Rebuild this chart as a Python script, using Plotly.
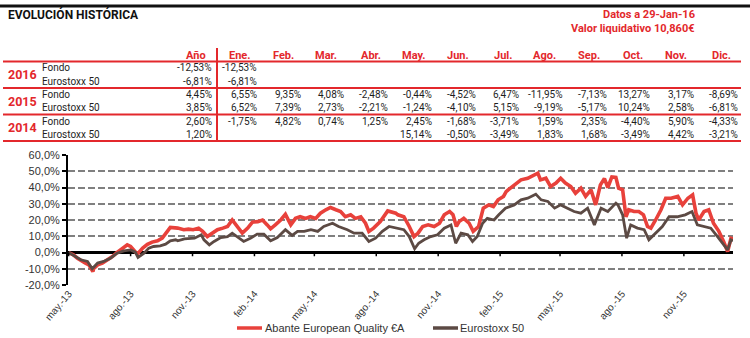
import plotly.graph_objects as go

# ------------------------------------------------------------------ data
fund_name = "Abante European Quality €A"
index_name = "Eurostoxx 50"

fund_dates = [
    "2013-05-17", "2013-05-24", "2013-05-30", "2013-06-04", "2013-06-11", "2013-06-16", "2013-06-22", "2013-06-23", "2013-06-29", "2013-07-06",
    "2013-07-14", "2013-07-21", "2013-07-28", "2013-08-05", "2013-08-12", "2013-08-17", "2013-08-21", "2013-08-27", "2013-09-04", "2013-09-11",
    "2013-09-18", "2013-09-26", "2013-10-03", "2013-10-11", "2013-10-15", "2013-10-26", "2013-11-04", "2013-11-11", "2013-11-18", "2013-11-26",
    "2013-12-02", "2013-12-09", "2013-12-17", "2013-12-24", "2014-01-01", "2014-01-08", "2014-01-15", "2014-01-23", "2014-01-30", "2014-02-07",
    "2014-02-14", "2014-02-22", "2014-03-01", "2014-03-08", "2014-03-13", "2014-03-20", "2014-03-28", "2014-04-04", "2014-04-12", "2014-04-19",
    "2014-04-26", "2014-05-04", "2014-05-11", "2014-05-19", "2014-05-26", "2014-06-03", "2014-06-10", "2014-06-18", "2014-06-25", "2014-07-02",
    "2014-07-10", "2014-07-17", "2014-07-25", "2014-08-01", "2014-08-06", "2014-08-13", "2014-08-23", "2014-09-03", "2014-09-15", "2014-09-18",
    "2014-09-27", "2014-10-05", "2014-10-12", "2014-10-18", "2014-10-25", "2014-11-02", "2014-11-11", "2014-11-19", "2014-11-26", "2014-12-04",
    "2014-12-09", "2014-12-14", "2014-12-18", "2014-12-25", "2015-01-02", "2015-01-08", "2015-01-16", "2015-01-23", "2015-01-31", "2015-02-07",
    "2015-02-14", "2015-02-22", "2015-02-26", "2015-03-01", "2015-03-10", "2015-03-20", "2015-03-30", "2015-04-08", "2015-04-14", "2015-04-18",
    "2015-04-26", "2015-05-03", "2015-05-11", "2015-05-18", "2015-05-25", "2015-06-02", "2015-06-09", "2015-06-17", "2015-06-24", "2015-07-02",
    "2015-07-09", "2015-07-16", "2015-07-22", "2015-07-27", "2015-08-02", "2015-08-08", "2015-08-12", "2015-08-18", "2015-08-23", "2015-08-27",
    "2015-09-04", "2015-09-11", "2015-09-18", "2015-09-24", "2015-09-29", "2015-10-06", "2015-10-14", "2015-10-21", "2015-10-29", "2015-11-08",
    "2015-11-15", "2015-11-23", "2015-11-30", "2015-12-05", "2015-12-09", "2015-12-17", "2015-12-24", "2015-12-31", "2016-01-08", "2016-01-15",
    "2016-01-21", "2016-01-26", "2016-01-29",
]
fund_values = [
    0.0, -1.4, -3.5, -5.0, -6.5, -7.6, -11.7, -10.0, -7.6, -6.5,
    -4.5, -2.5, 0.0, 2.7, 4.7, 3.7, 1.6, -1.0, 2.7, 5.0,
    6.4, 7.2, 8.8, 13.0, 15.4, 15.0, 14.0, 14.4, 14.0, 15.0,
    13.0, 9.8, 11.9, 14.0, 15.0, 16.0, 20.0, 16.0, 11.9, 15.0,
    18.7, 19.0, 20.0, 17.0, 14.6, 17.0, 20.0, 23.5, 17.0, 21.0,
    22.0, 21.0, 22.0, 21.0, 24.2, 26.3, 27.7, 26.3, 25.2, 22.0,
    23.2, 21.0, 22.0, 18.0, 13.0, 15.0, 19.0, 25.6, 24.2, 23.2,
    22.0, 16.0, 9.8, 11.9, 16.0, 17.0, 16.0, 18.0, 23.2, 25.2,
    23.2, 16.0, 19.0, 21.0, 18.0, 13.0, 16.0, 27.3, 29.3, 28.3,
    32.4, 34.5, 37.5, 38.6, 41.6, 44.7, 45.7, 47.8, 48.8, 44.7,
    45.7, 40.6, 42.7, 45.7, 42.7, 40.6, 36.5, 39.6, 34.5, 38.6,
    29.3, 41.6, 45.5, 40.0, 46.5, 46.2, 39.6, 38.6, 22.0, 26.3,
    25.2, 25.2, 23.2, 16.0, 15.0, 20.0, 26.3, 33.4, 33.4, 34.5,
    29.3, 33.4, 35.5, 24.2, 20.0, 25.2, 26.3, 18.0, 13.0, 6.8,
    0.6, 8.8, 8.4,
]

index_dates = [
    "2013-05-17", "2013-05-25", "2013-06-04", "2013-06-14", "2013-06-21", "2013-06-29", "2013-07-08", "2013-07-18", "2013-07-28", "2013-08-07",
    "2013-08-17", "2013-08-24", "2013-08-28", "2013-09-06", "2013-09-13", "2013-09-20", "2013-09-30", "2013-10-08", "2013-10-15", "2013-10-23",
    "2013-10-26", "2013-11-05", "2013-11-20", "2013-11-30", "2013-12-04", "2013-12-12", "2013-12-19", "2013-12-29", "2014-01-08", "2014-01-15",
    "2014-01-22", "2014-02-01", "2014-02-11", "2014-02-21", "2014-03-03", "2014-03-13", "2014-03-23", "2014-04-04", "2014-04-14", "2014-04-22",
    "2014-05-02", "2014-05-12", "2014-05-22", "2014-05-31", "2014-06-13", "2014-06-22", "2014-07-05", "2014-07-15", "2014-07-27", "2014-08-06",
    "2014-08-16", "2014-08-26", "2014-09-05", "2014-09-15", "2014-09-27", "2014-10-05", "2014-10-13", "2014-10-19", "2014-10-27", "2014-11-06",
    "2014-11-16", "2014-11-26", "2014-12-06", "2014-12-13", "2014-12-21", "2014-12-31", "2015-01-07", "2015-01-14", "2015-01-22", "2015-01-29",
    "2015-02-08", "2015-02-15", "2015-02-25", "2015-03-10", "2015-03-20", "2015-03-30", "2015-04-11", "2015-04-19", "2015-04-29", "2015-05-09",
    "2015-05-18", "2015-05-28", "2015-06-07", "2015-06-17", "2015-06-27", "2015-07-07", "2015-07-17", "2015-07-27", "2015-08-08", "2015-08-11",
    "2015-08-18", "2015-08-24", "2015-08-30", "2015-09-09", "2015-09-19", "2015-09-26", "2015-10-06", "2015-10-16", "2015-10-26", "2015-11-07",
    "2015-11-19", "2015-11-29", "2015-12-07", "2015-12-17", "2015-12-27", "2016-01-06", "2016-01-16", "2016-01-21", "2016-01-26", "2016-01-29",
]
index_values = [
    0.0, -1.8, -4.5, -5.5, -10.0, -6.5, -5.5, -3.5, -0.4, 1.0,
    1.6, 0.2, -3.0, -0.4, 2.7, 3.7, 4.1, 5.1, 7.2, 7.8,
    7.2, 8.4, 8.8, 10.9, 7.8, 4.7, 6.8, 9.2, 9.8, 11.9,
    9.8, 6.8, 8.8, 11.3, 11.3, 7.2, 9.2, 14.0, 10.5, 13.0,
    13.0, 14.0, 13.0, 16.0, 18.0, 16.0, 14.0, 11.9, 11.9, 6.8,
    8.8, 13.0, 16.0, 15.0, 14.0, 9.8, 2.3, 5.7, 7.8, 9.8,
    10.9, 15.0, 17.0, 5.7, 11.9, 10.9, 6.8, 9.8, 18.0, 21.0,
    20.0, 23.2, 27.3, 29.3, 32.4, 33.4, 35.9, 32.4, 31.4, 27.3,
    29.3, 27.3, 25.2, 24.2, 27.3, 17.0, 27.3, 25.2, 30.4, 29.3,
    23.2, 8.8, 17.0, 15.0, 14.0, 7.8, 11.9, 16.0, 22.0, 22.0,
    23.2, 25.2, 17.0, 16.0, 15.0, 9.8, 4.7, 1.6, 7.8, 7.2,
]

x_tick_dates = ["2013-05-17", "2013-08-17", "2013-11-17", "2014-02-17", "2014-05-17", "2014-08-17",
                "2014-11-17", "2015-02-17", "2015-05-17", "2015-08-17", "2015-11-17"]
x_tick_labels = ["may.-13", "ago.-13", "nov.-13", "feb.-14", "may.-14", "ago.-14",
                 "nov.-14", "feb.-15", "may.-15", "ago.-15", "nov.-15"]
y_tick_values = [-20, -10, 0, 10, 20, 30, 40, 50, 60]
y_tick_labels = ["-20,0%", "-10,0%", "0,0%", "10,0%", "20,0%", "30,0%", "40,0%", "50,0%", "60,0%"]

# table
table_title = "EVOLUCIÓN HISTÓRICA"
info_lines = ["Datos a 29-Jan-16", "Valor liquidativo 10,860€"]
year_header = "Año"
months = ["Ene.", "Feb.", "Mar.", "Abr.", "May.", "Jun.", "Jul.", "Ago.", "Sep.", "Oct.", "Nov.", "Dic."]
years = ["2016", "2015", "2014"]
row_labels = ["Fondo", "Eurostoxx 50"]
fondo_year = [-12.53, 4.45, 2.60]
euro_year = [-6.81, 3.85, 1.20]
fondo_2016 = [-12.53, None, None, None, None, None, None, None, None, None, None, None]
euro_2016 = [-6.81, None, None, None, None, None, None, None, None, None, None, None]
fondo_2015 = [6.55, 9.35, 4.08, -2.48, -0.44, -4.52, 6.47, -11.95, -7.13, 13.27, 3.17, -8.69]
euro_2015 = [6.52, 7.39, 2.73, -2.21, -1.24, -4.10, 5.15, -9.19, -5.17, 10.24, 2.58, -6.81]
fondo_2014 = [-1.75, 4.82, 0.74, 1.25, 2.45, -1.68, -3.71, 1.59, 2.35, -4.40, 5.90, -4.33]
euro_2014 = [None, None, None, None, 15.14, -0.50, -3.49, 1.83, 1.68, -3.49, 4.42, -3.21]
fondo_monthly = [fondo_2016, fondo_2015, fondo_2014]
euro_monthly = [euro_2016, euro_2015, euro_2014]

# ------------------------------------------------------------------ styles
W, H = 750, 338
PL, PR, PT, PB = 68, 733, 155, 285   # plot area in pixels
RED = "#E3282C"
RED_LINE = "#E8413B"
BROWN = "#5C4A44"
DARK = "#1E1E1E"
TFONT = "Roboto"
CFONT = "Liberation Sans"


def px_x(px):
    return (px - PL) / (PR - PL)


def px_y(py):
    return (PB - py) / (PB - PT)


def fmt(v):
    return "" if v is None else f"{v:.2f}".replace(".", ",") + "%"


fig = go.Figure()
fig.add_trace(go.Scatter(x=fund_dates, y=fund_values, mode="lines", name=fund_name,
                         line=dict(color=RED_LINE, width=3.6), showlegend=False))
fig.add_trace(go.Scatter(x=index_dates, y=index_values, mode="lines", name=index_name,
                         line=dict(color=BROWN, width=2.8), showlegend=False))

shapes = []
annotations = []


def hline(py, x0, x1, color, width):
    shapes.append(dict(type="line", xref="paper", yref="paper", x0=px_x(x0), x1=px_x(x1),
                       y0=px_y(py), y1=px_y(py), line=dict(color=color, width=width)))


def txt(px, py, s, anchor="left", size=10, color=DARK, bold=False, family=TFONT):
    annotations.append(dict(xref="paper", yref="paper", x=px_x(px), y=px_y(py),
                            text=f"<b>{s}</b>" if bold else s, showarrow=False,
                            xanchor=anchor, yanchor="middle", borderpad=0,
                            font=dict(family=family, size=size, color=color)))


# header block
hline(6, 0, 750, "#111111", 3)
txt(7, 15, table_title, size=12, color="#111111", bold=True)
txt(696, 15, info_lines[0], anchor="right", size=11, color=RED, bold=True)
txt(696, 29, info_lines[1], anchor="right", size=11, color=RED, bold=True)

# table
ROW_STEP = 26.7
year_right = 213
col_right = [258 + 43.7 * i for i in range(len(months))]
txt(year_right - 6, 55, year_header, anchor="right", size=11, color=RED, bold=True)
for i, m in enumerate(months):
    txt(col_right[i] - 7, 55, m, anchor="right", size=11, color=RED, bold=True)
for k in range(4):
    hline(61.5 + 26.5 * k, 3, 741, RED, 2)
shapes.append(dict(type="line", xref="paper", yref="paper", x0=px_x(217), x1=px_x(217),
                   y0=px_y(48), y1=px_y(141), line=dict(color=RED, width=2)))
for k, yr in enumerate(years):
    y_f = 68 + ROW_STEP * k
    y_e = 81 + ROW_STEP * k
    txt(7, (y_f + y_e) / 2, yr, size=12.5, color=RED, bold=True)
    txt(41, y_f, row_labels[0], size=10)
    txt(41, y_e, row_labels[1], size=10)
    txt(year_right, y_f, fmt(fondo_year[k]), anchor="right", size=10)
    txt(year_right, y_e, fmt(euro_year[k]), anchor="right", size=10)
    for i in range(len(months)):
        if fondo_monthly[k][i] is not None:
            txt(col_right[i], y_f, fmt(fondo_monthly[k][i]), anchor="right", size=10)
        if euro_monthly[k][i] is not None:
            txt(col_right[i], y_e, fmt(euro_monthly[k][i]), anchor="right", size=10)

# small tick marks on the zero line
for d in x_tick_dates:
    shapes.append(dict(type="line", xref="x", yref="y", x0=d, x1=d, y0=0, y1=-2.3,
                       line=dict(color="black", width=1.5)))

# legend (manual)
hline(328, 237, 262, RED_LINE, 3.5)
txt(264, 328, fund_name, size=11, color="#333333", family=CFONT)
hline(328, 433, 458, BROWN, 3.5)
txt(459, 328, index_name, size=11, color="#333333", family=CFONT)

fig.update_layout(
    width=W, height=H,
    margin=dict(l=PL, r=W - PR, t=PT, b=H - PB, pad=0),
    paper_bgcolor="white", plot_bgcolor="white",
    showlegend=False,
    shapes=shapes, annotations=annotations,
    xaxis=dict(type="date", range=["2013-05-16", "2016-01-29"],
               tickvals=x_tick_dates, ticktext=x_tick_labels, tickangle=-50,
               showgrid=False, zeroline=False, showline=False, ticks="",
               tickfont=dict(family=CFONT, size=10, color="#333333")),
    yaxis=dict(range=[-20, 60], tickvals=y_tick_values, ticktext=y_tick_labels,
               showgrid=True, gridcolor="#808080", gridwidth=1.5, griddash="7px,3px",
               zeroline=True, zerolinecolor="black", zerolinewidth=2.5,
               showline=True, linecolor="black", linewidth=2,
               ticks="outside", ticklen=4, tickcolor="black", tickwidth=1.5,
               tickfont=dict(family=CFONT, size=11, color="#333333")),
)

fig.write_html("out.html")
